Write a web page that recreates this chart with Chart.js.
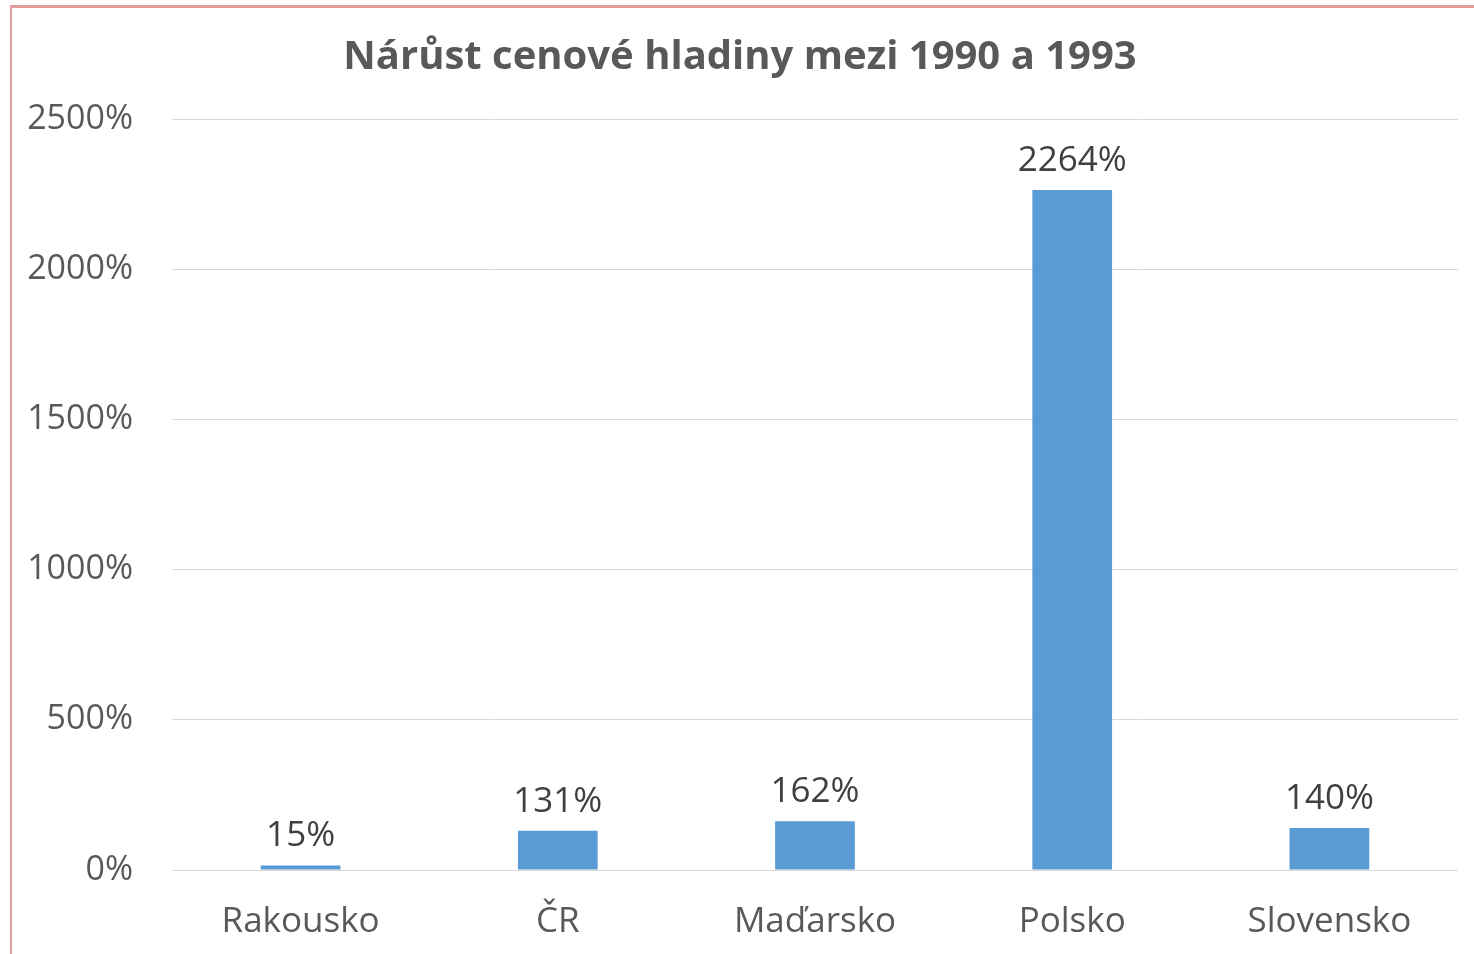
<!DOCTYPE html>
<html>
<head>
<meta charset="utf-8">
<script src="https://cdn.jsdelivr.net/npm/chart.js@4"></script>
<style>
  html, body { margin: 0; padding: 0; background: #fff; }
  #wrap { position: relative; width: 1474px; height: 954px; overflow: hidden; }
  #frame { position: absolute; left: 10px; top: 5px; width: 1500px; height: 1000px;
           border-left: 2px solid #e29c9c; border-top: 3px solid #e29c9c; }
  #barChart { position: absolute; left: 0; top: 0; }
</style>
</head>
<body>
<div id="wrap">
  <div id="frame"></div>
  <canvas id="barChart" width="1474" height="954"></canvas>
</div>
<script>
const categories = ['Rakousko', 'ČR', 'Maďarsko', 'Polsko', 'Slovensko'];
const values = [15, 131, 162, 2264, 140];
const yTicks = [0, 500, 1000, 1500, 2000, 2500];

const fontFamily = '"Open Sans", "Noto Sans", sans-serif';

// draw the value above each bar
const valueLabels = {
    id: 'valueLabels',
    afterDatasetsDraw(chart) {
        const c = chart.ctx;
        const meta = chart.getDatasetMeta(0);
        c.save();
        c.font = '35px ' + fontFamily;
        c.fillStyle = '#404040';
        c.textAlign = 'center';
        c.textBaseline = 'alphabetic';
        meta.data.forEach((bar, i) => {
            c.fillText(values[i] + '%', bar.x, bar.y - 19);
        });
        c.restore();
    }
};

const ctx = document.getElementById('barChart').getContext('2d');
const barChart = new Chart(ctx, {
    type: 'bar',
    data: {
        labels: categories,
        datasets: [{
            data: values,
            backgroundColor: '#5b9bd5',
            categoryPercentage: 1,
            barPercentage: 0.31
        }]
    },
    options: {
        responsive: false,
        animation: false,
        layout: { padding: { top: 34, right: 16, left: 22, bottom: 0 } },
        scales: {
            y: {
                min: 0,
                max: 2500,
                afterBuildTicks(scale) {
                    scale.ticks = yTicks.map(v => ({ value: v }));
                },
                afterFit(scale) { scale.width = 150; },
                border: { display: false },
                grid: { color: '#d9d9d9', lineWidth: 1, drawTicks: false },
                ticks: {
                    padding: 39,
                    color: '#595959',
                    font: { family: fontFamily, size: 34 },
                    callback: v => v + '%'
                }
            },
            x: {
                afterFit(scale) { scale.height = 84; },
                border: { display: false },
                grid: { display: false, drawTicks: false },
                ticks: {
                    padding: 31,
                    color: '#595959',
                    font: { family: fontFamily, size: 35 }
                }
            }
        },
        plugins: {
            legend: { display: false },
            tooltip: { enabled: false },
            title: {
                display: true,
                text: 'Nárůst cenové hladiny mezi 1990 a 1993',
                color: '#595959',
                font: { family: fontFamily, size: 40, weight: 'bold' },
                padding: { top: 0, bottom: 37 }
            }
        }
    },
    plugins: [valueLabels]
});
</script>
</body>
</html>
